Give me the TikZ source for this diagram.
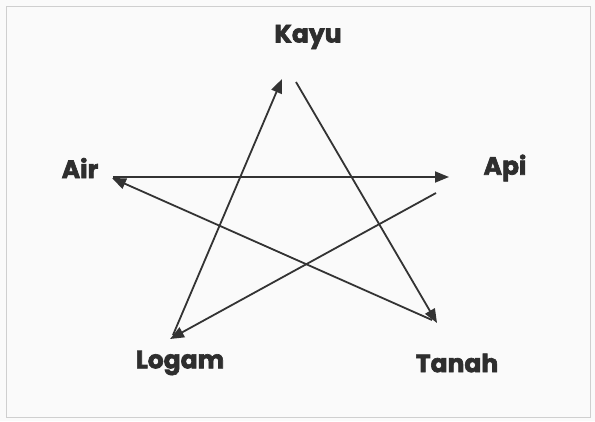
\documentclass[tikz,border=0pt]{standalone}
\usepackage{fontspec}
\setmainfont{Poppins}[BoldFeatures={FakeBold=2.5}]
\definecolor{elLine}{HTML}{333333}
\definecolor{elText}{HTML}{2E2E2E}
\definecolor{elFrame}{HTML}{CFCFCF}
\definecolor{elBg}{HTML}{FAFAFA}
\usepackage{xcolor}
\usepackage{tikz}
\usetikzlibrary{arrows.meta}

\begin{document}
\begin{tikzpicture}[
      x=1pt, y=-1pt,
      element/.style={font=\fontsize{25}{30}\selectfont\bfseries, text=elText, inner sep=0pt},
      arrow/.style={-{Triangle[length=14pt, width=11pt]}, line width=1.8pt, elLine}
    ]
    \useasboundingbox (0,0) rectangle (595,421);
    \fill[elBg] (0,0) rectangle (595,421);
    \draw[elFrame, line width=1pt] (6,6) rectangle (590,417);

    % elements
    \node[element] (kayu) at (308,37) {Kayu};
    \node[element] (air) at (80,168) {Air};
    \node[element] (api) at (505,168) {Api};
    \node[element] (logam) at (180,363) {Logam};
    \node[element] (tanah) at (457,363) {Tanah};

    % arrow ends
    \coordinate (kayuIn) at (282,79);
    \coordinate (kayuOut) at (296,82);
    \coordinate (tanahIn) at (437,323);
    \coordinate (tanahOut) at (432,320);
    \coordinate (airIn) at (112,178);
    \coordinate (airOut) at (113,177);
    \coordinate (apiIn) at (449,177);
    \coordinate (apiOut) at (436,193);
    \coordinate (logamIn) at (170,339);
    \coordinate (logamOut) at (173,335);

    \draw[arrow] (logamOut) -- (kayuIn);
    \draw[arrow] (kayuOut) -- (tanahIn);
    \draw[arrow] (tanahOut) -- (airIn);
    \draw[arrow] (airOut) -- (apiIn);
    \draw[arrow] (apiOut) -- (logamIn);
  \end{tikzpicture}
\end{document}
